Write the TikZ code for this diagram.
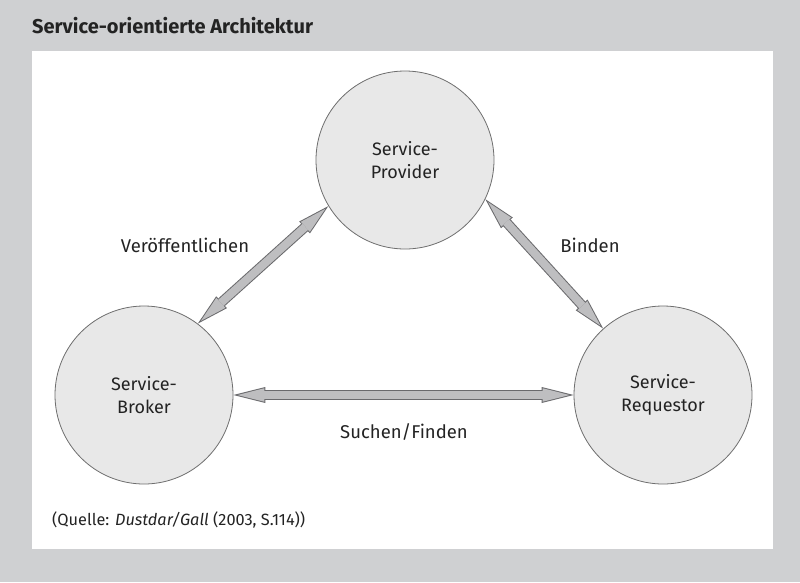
\documentclass[tikz,border=0pt]{standalone}
\usepackage{fontspec}
\setmainfont{Fira Sans}
\usepackage{tikz}
\usetikzlibrary{arrows.meta, positioning}
\definecolor{hintergrund}{RGB}{207,208,210}
\definecolor{kreisgrau}{RGB}{232,232,232}
\definecolor{kreisrand}{RGB}{110,110,110}
\definecolor{pfeilgrau}{RGB}{190,190,192}
\definecolor{pfeilrand}{RGB}{105,105,108}
\definecolor{schrift}{RGB}{35,35,35}

\begin{document}
\begin{tikzpicture}[
        x=1pt, y=-1pt,
        dienst/.style={circle, draw=kreisrand, line width=0.8pt, fill=kreisgrau, minimum size=178pt, inner sep=0pt, align=center, text=schrift, font=\fontsize{18}{23}\selectfont},
        pfeilaussen/.style={line width=10pt, draw=pfeilrand, {Triangle[length=32pt, width=16pt, line width=0pt, fill=pfeilrand]}-{Triangle[length=32pt, width=16pt, line width=0pt, fill=pfeilrand]}},
        pfeil/.style={line width=8pt, draw=pfeilgrau, {Triangle[length=26.9pt, width=13.5pt, line width=0pt, fill=pfeilgrau]}-{Triangle[length=26.9pt, width=13.5pt, line width=0pt, fill=pfeilgrau]}, shorten <=4.1pt, shorten >=4.1pt},
        label/.style={text=schrift, font=\fontsize{18.5}{23}\selectfont, anchor=base}
    ]
        % Rahmen
        \fill[hintergrund] (0,0) rectangle (800,582);
        \fill[white] (32,51) rectangle (773,549);
        \node[anchor=base west, inner sep=0pt, text=schrift, font=\fontsize{20}{23}\selectfont\bfseries] (titel) at (32,33) {Service-orientierte Architektur};

        \node[dienst] (provider) at (405,160) {Service-\\Provider};
        \node[dienst] (broker) at (144,395) {Service-\\Broker};
        \node[dienst] (requestor) at (663,395) {Service-\\Requestor};

        \draw[pfeilaussen] (broker.53) -- (provider.211);
        \draw[pfeil] (broker.53) -- (provider.211);
        \draw[pfeilaussen] (provider.334) -- (requestor.132);
        \draw[pfeil] (provider.334) -- (requestor.132);
        \draw[pfeilaussen] (broker.east) -- (requestor.west);
        \draw[pfeil] (broker.east) -- (requestor.west);

        \node[label] (veroeff) at (185,252) {Veröffentlichen};
        \node[label] (binden) at (590,252) {Binden};
        \node[label] (suchen) at (404,438) {Suchen/Finden};

        \node[anchor=base west, inner sep=0pt, text=schrift, font=\fontsize{16.3}{19}\selectfont] (quelle) at (52,525) {(Quelle: \textit{Dustdar/Gall} (2003, S.114))};
    \end{tikzpicture}
\end{document}
